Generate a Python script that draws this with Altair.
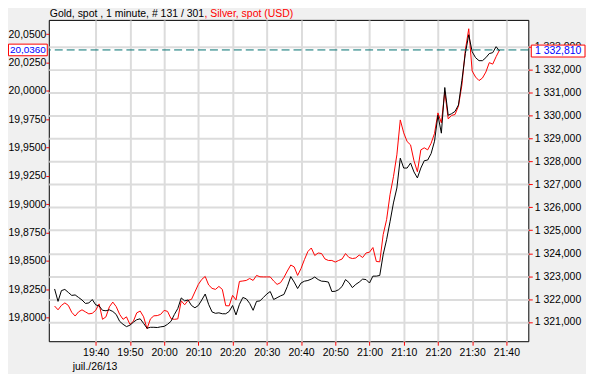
import altair as alt
import pandas as pd

# minutes after 19:00 (1-minute bars from 19:28 to 21:38)
start_minute = 28
n_points = 131

gold = [1322.44, 1321.90, 1322.37, 1322.42, 1322.29, 1322.16, 1322.18, 1322.07, 1321.96, 1321.81,
        1321.83, 1321.98, 1321.75, 1321.70, 1321.51, 1321.49, 1321.53, 1321.46, 1321.33, 1321.03,
        1320.90, 1320.80, 1320.86, 1320.99, 1321.10, 1321.14, 1320.94, 1320.73, 1320.77, 1320.77,
        1320.76, 1320.79, 1320.81, 1320.90, 1321.03, 1321.33, 1321.59, 1322.05, 1321.92, 1321.96,
        1321.72, 1321.62, 1321.72, 1321.96, 1322.22, 1321.77, 1321.44, 1321.38, 1321.40, 1321.36,
        1321.36, 1321.46, 1321.72, 1321.31, 1321.77, 1322.07, 1322.01, 1321.81, 1321.51, 1321.90,
        1321.92, 1322.07, 1322.22, 1322.33, 1321.98, 1322.06, 1322.14, 1322.20, 1322.55, 1322.98,
        1322.74, 1322.46, 1322.70, 1322.78, 1322.81, 1322.87, 1322.96, 1322.85, 1322.78, 1322.77,
        1322.74, 1322.33, 1322.34, 1322.41, 1322.55, 1322.85, 1322.72, 1322.50, 1322.64, 1322.74,
        1322.87, 1322.85, 1322.70, 1323.00, 1323.00, 1323.03, 1323.94, 1324.59, 1325.37, 1326.19,
        1326.84, 1328.14, 1327.71, 1327.71, 1327.93, 1327.54, 1327.28, 1327.71, 1328.03, 1328.06,
        1328.34, 1328.88, 1330.01, 1329.23, 1331.22, 1330.01, 1330.08, 1330.18, 1330.46, 1331.53,
        1332.70, 1333.52, 1332.78, 1332.52, 1332.39, 1332.39, 1332.52, 1332.70, 1332.74, 1333.00,
        1332.81]

silver = [19.8102, 19.8069, 19.8108, 19.8130, 19.8108, 19.8047, 19.8014, 19.8051, 19.8069, 19.8051,
          19.8033, 19.8038, 19.8064, 19.8121, 19.7985, 19.8007, 19.8095, 19.8137, 19.8097, 19.8029,
          19.7985, 19.8007, 19.7941, 19.7967, 19.8042, 19.8058, 19.8007, 19.7902, 19.7989, 19.8016,
          19.8018, 19.8029, 19.8064, 19.8055, 19.7991, 19.7985, 19.7989, 19.8148, 19.8113, 19.8152,
          19.8161, 19.8227, 19.8293, 19.8337, 19.8363, 19.8288, 19.8258, 19.8249, 19.8275, 19.8249,
          19.8105, 19.8104, 19.8196, 19.8156, 19.8319, 19.8323, 19.8328, 19.8345, 19.8328, 19.8372,
          19.8360, 19.8359, 19.8359, 19.8359, 19.8323, 19.8293, 19.8308, 19.8354, 19.8411, 19.8464,
          19.8447, 19.8372, 19.8433, 19.8512, 19.8583, 19.8614, 19.8548, 19.8570, 19.8565, 19.8517,
          19.8504, 19.8504, 19.8490, 19.8504, 19.8517, 19.8565, 19.8530, 19.8521, 19.8526, 19.8552,
          19.8530, 19.8570, 19.8577, 19.8618, 19.8495, 19.8492, 19.8732, 19.8864, 19.9084, 19.9242,
          19.9435, 19.9743, 19.9629, 19.9552, 19.9523, 19.9383, 19.9286, 19.9479, 19.9497, 19.9479,
          19.9537, 19.9624, 19.9805, 19.9717, 19.9992, 19.9752, 19.9783, 19.9791, 19.9866, 20.0051,
          20.0358, 20.0547, 20.0174, 20.0121, 20.0090, 20.0112, 20.0165, 20.0248, 20.0235, 20.0301,
          20.0360]

x_ticks = [40, 50, 60, 70, 80, 90, 100, 110, 120, 130, 140, 150, 160]
silver_ticks = [19.800, 19.825, 19.850, 19.875, 19.900, 19.925, 19.950, 19.975, 20.000, 20.025, 20.050]
gold_ticks = [1321, 1322, 1323, 1324, 1325, 1326, 1327, 1328, 1329, 1330, 1331, 1332, 1333]

title_black = "Gold, spot , 1 minute, # 131 / 301"
title_red = ", Silver, spot (USD)"
date_label = "juil./26/13"

FONT = "Liberation Sans"
FS = 10.5

df = pd.DataFrame({
    "minute": list(range(start_minute, start_minute + n_points)),
    "gold": gold,
    "silver": silver,
})
last_df = pd.DataFrame({"silver": [silver[-1]], "gold": [gold[-1]]})

x_scale = alt.Scale(domain=[26.3, 166.4], nice=False, zero=False)
silver_scale = alt.Scale(domain=[19.7792, 20.0625], nice=False, zero=False)
gold_scale = alt.Scale(domain=[1320.163, 1334.168], nice=False, zero=False)

x_enc = alt.X(
    "minute:Q", scale=x_scale, title=None,
    axis=alt.Axis(
        values=x_ticks, grid=True, gridColor="#dcdcdc", gridWidth=2,
        labelExpr="floor((1140 + datum.value) / 60) + ':' + (((1140 + datum.value) % 60) < 10 ? '0' : '') + ((1140 + datum.value) % 60)",
        tickColor="#ff0000", tickSize=4, labelPadding=2, domain=False,
        labelFont=FONT, labelFontSize=FS, labelColor="#000000",
    ),
)

silver_line = alt.Chart(df).mark_line(color="#ff0000", strokeWidth=1).encode(
    x=x_enc,
    y=alt.Y("silver:Q", scale=silver_scale, title=None,
            axis=alt.Axis(orient="left", values=silver_ticks, grid=False,
                          labelExpr="replace(format(datum.value, '.4f'), '.', ',')",
                          tickColor="#ff0000", tickSize=3, labelPadding=0, domain=False,
                          labelFont=FONT, labelFontSize=FS, labelColor="#000000")),
)

gold_line = alt.Chart(df).mark_line(color="#000000", strokeWidth=1).encode(
    x=alt.X("minute:Q", scale=x_scale),
    y=alt.Y("gold:Q", scale=gold_scale, title=None,
            axis=alt.Axis(orient="right", values=gold_ticks, grid=True,
                          gridColor="#dcdcdc", gridWidth=2,
                          labelExpr="replace(replace(format(datum.value, ',.3f'), ',', ' '), '.', ',')",
                          tickColor="#ff0000", tickSize=4, labelPadding=2, domain=False,
                          labelFont=FONT, labelFontSize=FS, labelColor="#000000")),
)

dash = alt.Chart(last_df).mark_rule(color="#007070", strokeWidth=1, strokeDash=[8, 4]).encode(
    y=alt.Y("silver:Q", scale=silver_scale, axis=None),
)

left_box = alt.Chart(last_df).mark_point(
    shape="M-1,-0.3L1,-0.3L1,0.3L-1,0.3Z", size=1521,
    filled=True, fill="#ffffff", stroke="#ff0000", strokeWidth=1, opacity=1,
).encode(x=alt.value(-21), y=alt.Y("silver:Q", scale=silver_scale, axis=None))

left_text = alt.Chart(last_df).transform_calculate(
    lab="replace(format(datum.silver, '.4f'), '.', ',')"
).mark_text(color="#0000ff", font=FONT, fontSize=10, align="center", baseline="middle").encode(
    x=alt.value(-21), y=alt.Y("silver:Q", scale=silver_scale, axis=None), text="lab:N"
)

right_box = alt.Chart(last_df).mark_point(
    shape="M-1,-0.2222L1,-0.2222L1,0.2222L-1,0.2222Z", size=2916,
    filled=True, fill="#ffffff", stroke="#ff0000", strokeWidth=1, opacity=1,
).encode(x=alt.value(512), y=alt.Y("gold:Q", scale=gold_scale, axis=None))

right_text = alt.Chart(last_df).transform_calculate(
    lab="replace(replace(format(datum.gold, ',.3f'), ',', ' '), '.', ',')"
).mark_text(color="#0000ff", font=FONT, fontSize=FS, align="center", baseline="middle").encode(
    x=alt.value(512), y=alt.Y("gold:Q", scale=gold_scale, axis=None), text="lab:N"
)

t1 = alt.Chart(pd.DataFrame({"t": [title_black]})).mark_text(
    color="#000000", font=FONT, fontSize=FS, align="left", baseline="alphabetic"
).encode(x=alt.value(1), y=alt.value(-3), text="t:N")

t2 = alt.Chart(pd.DataFrame({"t": [title_red]})).mark_text(
    color="#ff0000", font=FONT, fontSize=FS, align="left", baseline="alphabetic"
).encode(x=alt.value(156.5), y=alt.value(-3), text="t:N")

t3 = alt.Chart(pd.DataFrame({"t": [date_label]})).mark_text(
    color="#000000", font=FONT, fontSize=FS, align="left", baseline="middle"
).encode(x=alt.value(24), y=alt.value(349), text="t:N")

chart = alt.layer(
    silver_line, gold_line, dash, left_box, left_text, right_box, right_text, t1, t2, t3
).resolve_scale(y="independent").properties(
    width=482, height=323,
    padding={"left": 41, "top": 11, "right": 58, "bottom": 32},
    autosize=alt.AutoSizeParams(type="none"),
    background="#f0f0f0",
).configure_view(fill="#ffffff", stroke="#000000", strokeWidth=1)

chart.save("out.html", embed_options={"renderer": "svg", "actions": False})
